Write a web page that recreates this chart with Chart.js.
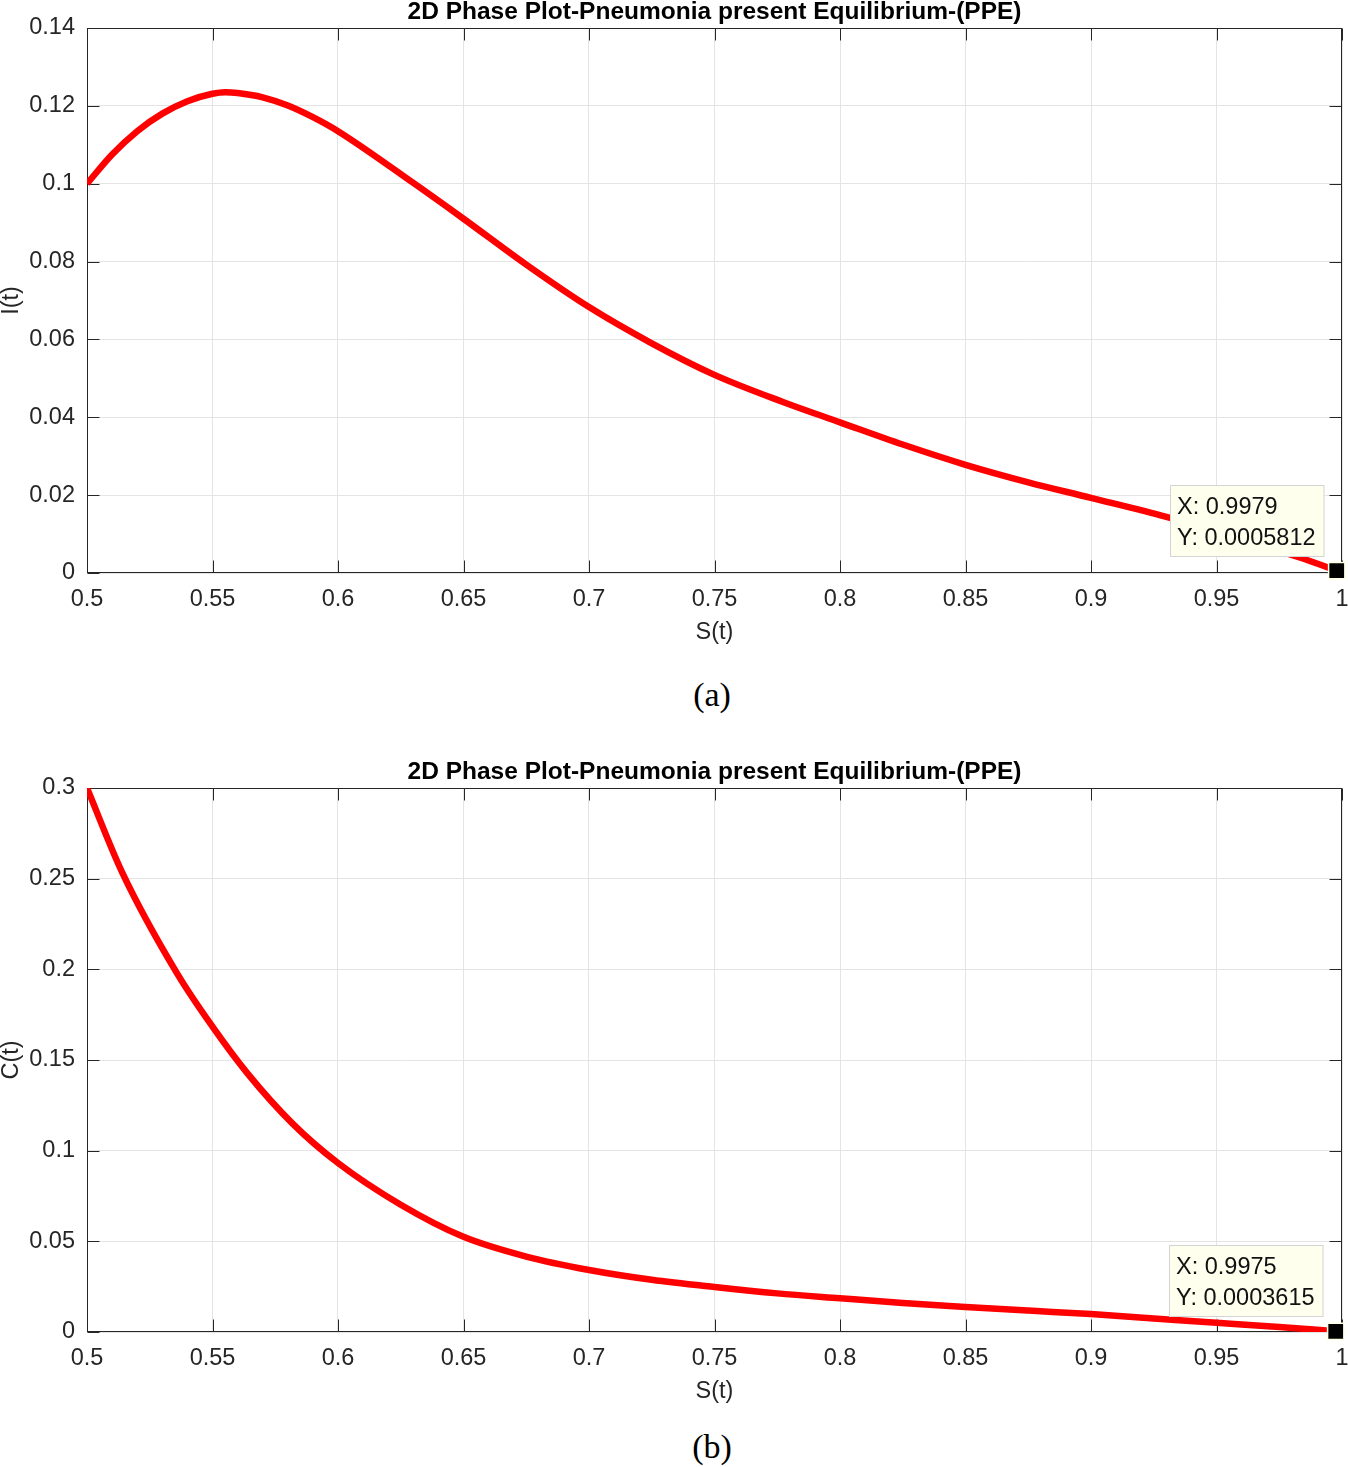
<!DOCTYPE html>
<html>
<head>
<meta charset="utf-8">
<script src="https://cdn.jsdelivr.net/npm/chart.js@4.4.1/dist/chart.umd.min.js"></script>
<style>
  html, body { margin: 0; padding: 0; background: #fff; }
  body { width: 1348px; height: 1467px; position: relative; overflow: hidden; }
  .box { position: absolute; left: 0; width: 1348px; }
  .cap { position: absolute; left: 612px; width: 200px; text-align: center; line-height: 40px;
         font-family: 'Liberation Serif', 'Times New Roman', serif; font-size: 34px; color: #000; }
</style>
</head>
<body>
<div class="box" style="top:0;height:660px"><canvas id="chartA"></canvas></div>
<div class="cap" style="top:675px">(a)</div>
<div class="box" style="top:760px;height:659px"><canvas id="chartB"></canvas></div>
<div class="cap" style="top:1427px">(b)</div>
<script>
// (a) S(t) vs I(t)
const sA = [0.5, 0.51, 0.52, 0.53, 0.54, 0.55, 0.555, 0.56, 0.57, 0.58, 0.59, 0.6, 0.63, 0.65, 0.675, 0.7, 0.725, 0.75, 0.777, 0.8, 0.825, 0.85, 0.875, 0.9, 0.93, 0.95, 0.97, 0.985, 0.9979];
const iA = [0.1, 0.1075, 0.1135, 0.118, 0.1212, 0.1231, 0.1235, 0.1233, 0.1222, 0.1201, 0.1171, 0.1135, 0.1002, 0.091, 0.0792, 0.0683, 0.059, 0.0509, 0.044, 0.0387, 0.033, 0.0278, 0.0233, 0.0193, 0.0144, 0.0106, 0.0066, 0.0036, 0.0005812];
const tipA = [0.9979, 0.0005812];

// (b) S(t) vs C(t)
const sB = [0.5, 0.514, 0.536, 0.55, 0.564, 0.582, 0.6, 0.625, 0.65, 0.675, 0.7, 0.725, 0.75, 0.775, 0.8, 0.825, 0.85, 0.875, 0.9, 0.925, 0.95, 0.975, 0.9975];
const cB = [0.3, 0.2535, 0.1975, 0.1684, 0.1425, 0.1148, 0.0932, 0.0702, 0.0525, 0.0416, 0.0342, 0.0288, 0.0248, 0.0213, 0.0186, 0.016, 0.0138, 0.0118, 0.0099, 0.0075, 0.0051, 0.0028, 0.0003615];
const tipB = [0.9975, 0.0003615];

const sTicks = { min: 0.5, max: 1, step: 0.05 };
const titleText = '2D Phase Plot-Pneumonia present Equilibrium-(PPE)';

const fontFamily = "'Liberation Sans', Arial, Helvetica, sans-serif";
const axisColor = '#262626';
const tickLen = 12;

// box, inward ticks, title, data tip (MATLAB look)
const matlabAxes = {
  id: 'matlabAxes',
  beforeDatasetsDraw(chart) {
    const ctx = chart.ctx;
    const a = chart.chartArea;
    const xs = chart.scales.x, ys = chart.scales.y;
    const L = Math.round(a.left) + 0.5, R = Math.round(a.right) - 0.5;
    const T = Math.round(a.top) + 0.5, B = Math.round(a.bottom) - 0.5;
    ctx.save();
    ctx.strokeStyle = axisColor;
    ctx.lineWidth = 1;
    ctx.beginPath();
    xs.ticks.forEach(t => {
      const px = Math.round(xs.getPixelForValue(t.value)) + 0.5;
      ctx.moveTo(px, B); ctx.lineTo(px, B - tickLen);
      ctx.moveTo(px, T); ctx.lineTo(px, T + tickLen);
    });
    ys.ticks.forEach(t => {
      const py = Math.round(ys.getPixelForValue(t.value)) + 0.5;
      ctx.moveTo(L, py); ctx.lineTo(L + tickLen, py);
      ctx.moveTo(R, py); ctx.lineTo(R - tickLen, py);
    });
    ctx.stroke();
    ctx.strokeRect(L, T, R - L, B - T);
    ctx.restore();
  },
  afterDatasetDraw(chart, args, opts) {
    if (args.index !== 1) return;
    const ctx = chart.ctx;
    const m = chart.getDatasetMeta(0).data[0];
    const lines = ['X: ' + opts.tip[0], 'Y: ' + opts.tip[1]];
    ctx.save();
    ctx.font = '23.5px ' + fontFamily;
    const w = Math.max(...lines.map(l => ctx.measureText(l).width)) + 16;
    const h = 72;
    const bx = Math.round(m.x - 12 - w), by = Math.round(m.y - 14 - h);
    ctx.fillStyle = '#ffffee';
    ctx.fillRect(bx, by, w, h);
    ctx.strokeStyle = '#d4d4d4';
    ctx.lineWidth = 1;
    ctx.strokeRect(bx + 0.5, by + 0.5, w - 1, h - 1);
    ctx.fillStyle = '#111';
    ctx.textBaseline = 'middle';
    ctx.fillText(lines[0], bx + 7, by + 23);
    ctx.fillText(lines[1], bx + 7, by + 54);
    ctx.restore();
  },
  afterDraw(chart) {
    const ctx = chart.ctx;
    const a = chart.chartArea;
    ctx.save();
    ctx.font = 'bold 24.5px ' + fontFamily;
    ctx.fillStyle = '#000';
    ctx.textAlign = 'center';
    ctx.textBaseline = 'middle';
    ctx.fillText(titleText, (a.left + a.right) / 2, a.top - 16);
    ctx.restore();
  }
};

function makeChart(id, sVals, yVals, tip, yMax, yStep, yLabel) {
  const fmt = v => String(parseFloat(Number(v).toFixed(3)));
  return new Chart(document.getElementById(id), {
    type: 'scatter',
    data: {
      datasets: [
        {
          data: [{ x: tip[0], y: tip[1] }],
          pointStyle: 'rect',
          pointRadius: 11.5,
          backgroundColor: '#000',
          borderColor: '#ffffe6',
          borderWidth: 1.5,
          clip: false
        },
        {
          data: sVals.map((s, i) => ({ x: s, y: yVals[i] })),
          showLine: true,
          borderColor: '#ff0000',
          borderWidth: 6.5,
          pointRadius: 0,
          fill: false,
          cubicInterpolationMode: 'monotone'
        }
      ]
    },
    options: {
      responsive: true,
      maintainAspectRatio: false,
      animation: false,
      events: [],
      layout: { autoPadding: false, padding: { top: 28, right: 6, bottom: 12, left: 0 } },
      plugins: {
        legend: { display: false },
        tooltip: { enabled: false },
        matlabAxes: { tip: tip }
      },
      scales: {
        x: {
          type: 'linear',
          min: sTicks.min,
          max: sTicks.max,
          afterFit: s => { s.height = 75; s.paddingLeft = 0; s.paddingRight = 0; },
          grid: { color: '#e4e4e4', lineWidth: 1, drawTicks: true, tickLength: 12, tickColor: 'rgba(0,0,0,0)' },
          border: { display: false },
          ticks: {
            stepSize: sTicks.step,
            autoSkip: false,
            maxRotation: 0,
            padding: 0,
            color: axisColor,
            font: { family: fontFamily, size: 23.5 },
            callback: fmt
          },
          title: {
            display: true,
            text: 'S(t)',
            color: axisColor,
            font: { family: fontFamily, size: 23.5 },
            padding: { top: 0, bottom: 1 }
          }
        },
        y: {
          min: 0,
          max: yMax,
          afterFit: s => { s.width = 87; },
          grid: { color: '#e4e4e4', lineWidth: 1, drawTicks: false },
          border: { display: false },
          ticks: {
            stepSize: yStep,
            autoSkip: false,
            padding: 12,
            color: axisColor,
            font: { family: fontFamily, size: 23.5 },
            callback: fmt
          },
          title: {
            display: true,
            text: yLabel,
            color: axisColor,
            font: { family: fontFamily, size: 23.5, lineHeight: 1 },
            padding: 0
          }
        }
      }
    },
    plugins: [matlabAxes]
  });
}

makeChart('chartA', sA, iA, tipA, 0.14, 0.02, 'I(t)');
makeChart('chartB', sB, cB, tipB, 0.3, 0.05, 'C(t)');
</script>
</body>
</html>
